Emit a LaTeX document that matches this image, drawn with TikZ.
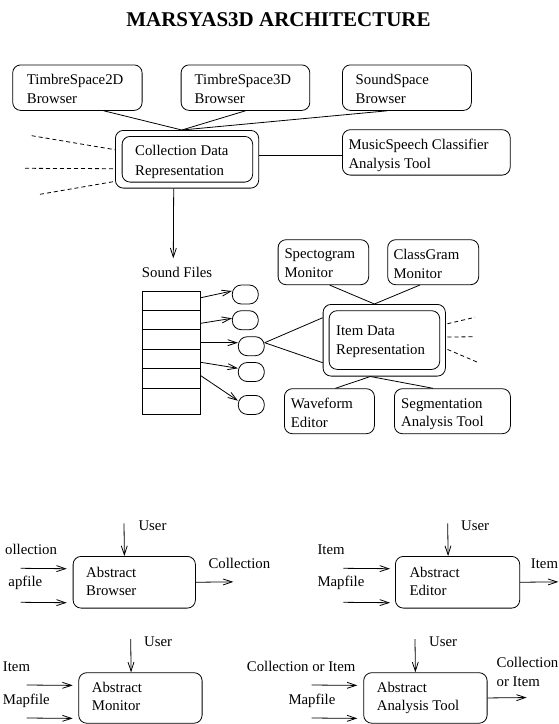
\documentclass[tikz,border=0pt]{standalone}
\usepackage{fontspec}
\setmainfont{Liberation Serif}
\usetikzlibrary{arrows.meta,calc}
\begin{document}
\begin{tikzpicture}[x=1pt,y=-1pt,
  box/.style={draw, rounded corners=8pt, line width=0.8pt, inner sep=0pt, anchor=north west},
  oval/.style={draw, rounded corners=9pt, line width=0.8pt, inner sep=0pt, minimum width=26pt, minimum height=19pt},
  txt/.style={font=\fontsize{14.8}{19}\selectfont, align=left, inner sep=0pt, anchor=north west},
  txtb/.style={font=\fontsize{14.8}{18.3}\selectfont, align=left, inner sep=0pt, anchor=north west},
  lbl/.style={font=\fontsize{14.8}{19}\selectfont, inner sep=0pt, anchor=base west},
  ln/.style={line width=0.8pt},
  dsh/.style={line width=0.8pt, dash pattern=on 4pt off 3pt},
  arr/.style={line width=0.8pt, -{Straight Barb[length=9pt,width=6pt]}}]
\useasboundingbox (0,0) rectangle (559,724);

% title
\node[font=\fontsize{21}{24}\selectfont\bfseries, anchor=base, inner sep=0pt] (title) at (278.5,26.7) {MARSYAS3D ARCHITECTURE};

% top boxes
\node[box, minimum width=129.4pt, minimum height=45.5pt] (t2d) at (12.3,64.5) {};
\node[txt] (t2dt) at (26.7,74.2) {TimbreSpace2D\\Browser};
\node[box, minimum width=128.7pt, minimum height=45.5pt] (t3d) at (180.7,64.5) {};
\node[txt] (t3dt) at (194.5,74.2) {TimbreSpace3D\\Browser};
\node[box, minimum width=129pt, minimum height=45.5pt] (ss) at (342,64.5) {};
\node[txt] (sst) at (355.5,74.2) {SoundSpace\\Browser};

% collection data representation
\node[box, minimum width=143.3pt, minimum height=57.7pt] (cout) at (115,130) {};
\node[box, minimum width=130.6pt, minimum height=45.7pt] (cin) at (121.7,136) {};
\node[txt, font=\fontsize{14.8}{20}\selectfont] (ct) at (135,144.9) {Collection Data\\Representation};

\node[box, minimum width=167.8pt, minimum height=45.4pt] (ms) at (342,129.3) {};
\node[txt] (mst) at (348.3,139.2) {MusicSpeech Classifier\\Analysis Tool};

\coordinate (cmeet) at ([xshift=-5.2pt]cout.north);
\draw[ln] ([xshift=26.4pt]t2d.south) -- (cmeet);
\draw[ln] (t3d.south) -- (cmeet);
\draw[ln] ([xshift=-19.7pt]ss.south) -- (cmeet);
\draw[ln] ([yshift=3.85pt]cout.east) -- ([yshift=-3pt]ms.west);

\coordinate (dl1) at (31.7,135.7);
\coordinate (dl2) at (25,168.3);
\coordinate (dl3) at (40,194.3);
\draw[dsh] (dl1) -- ([yshift=9.55pt]cout.west);
\draw[dsh] (dl2) -- ([yshift=-9.45pt]cout.west);
\draw[dsh] (dl3) -- ([yshift=-22.15pt]cout.west);

\coordinate (sftop) at (173.3,258.3);
\draw[arr] ([xshift=-13.35pt]cout.south) -- (sftop);

% sound files
\node[lbl] (sf) at (141.7,277.7) {Sound Files};
\node[draw, line width=0.8pt, inner sep=0pt, minimum width=58.3pt, minimum height=123.3pt, anchor=north west] (stack) at (141.7,291) {};
\foreach \d in {19.3,38.7,58,77.7,97.3}
  \draw[ln] ($(stack.north west)+(0,\d)$) -- ($(stack.north east)+(0,\d)$);

\node[oval] (e1) at (245.3,294.5) {};
\node[oval] (e2) at (245.3,320.2) {};
\node[oval] (e3) at (251.3,346.2) {};
\node[oval] (e4) at (251.3,372) {};
\node[oval] (e5) at (251.3,404.9) {};

\draw[arr] ($(stack.north east)+(0,6.7)$) -- ([yshift=3.5pt]e1.west);
\draw[arr] ($(stack.north east)+(0,32.3)$) -- ([yshift=1.9pt]e2.west);
\draw[arr] ($(stack.north east)+(0,51.7)$) -- ([yshift=3.5pt]e3.west);
\draw[arr] ($(stack.north east)+(0,71.3)$) -- ([yshift=3.7pt]e4.west);
\draw[arr] ($(stack.north east)+(0,84.7)$) -- ([yshift=4.2pt]e5.west);

% item data representation
\node[box, minimum width=122.3pt, minimum height=71.7pt] (iout) at (322.7,304) {};
\node[box, minimum width=110.6pt, minimum height=58.7pt] (iin) at (328.7,310.3) {};
\node[txt] (it) at (336,325.9) {Item Data\\Representation};

\draw[ln] ([yshift=3.5pt]e3.east) -- ([yshift=22.55pt]iout.west);
\draw[ln] ([yshift=3.5pt]e3.east) -- ([yshift=-22.45pt]iout.west);

\node[box, minimum width=90.6pt, minimum height=45pt] (spec) at (277.7,239.3) {};
\node[txt, font=\fontsize{14.8}{18.7}\selectfont] (spect) at (284.3,248.9) {Spectogram\\Monitor};
\node[box, minimum width=91pt, minimum height=45pt] (cg) at (387.3,239.3) {};
\node[txt, font=\fontsize{14.8}{18.7}\selectfont] (cgt) at (393.3,248.9) {ClassGram\\Monitor};

\coordinate (imeet) at ([xshift=-9.85pt]iout.north);
\draw[ln] ([xshift=6.3pt]spec.south) -- (imeet);
\draw[ln] ([xshift=-13.5pt]cg.south) -- (imeet);

\node[box, minimum width=90pt, minimum height=45pt] (wf) at (284,388.3) {};
\node[txtb] (wft) at (290.7,398.2) {Waveform\\Editor};
\node[box, minimum width=116pt, minimum height=45pt] (seg) at (394,388.3) {};
\node[txtb] (segt) at (401,398.2) {Segmentation\\Analysis Tool};

\coordinate (ibot) at ([xshift=-13.85pt]iout.south);
\draw[ln] (ibot) -- ([xshift=6pt]wf.north);
\draw[ln] (ibot) -- ([xshift=-19.3pt]seg.north);

\coordinate (dr1) at (475,317.3);
\coordinate (dr2) at (475,336.7);
\coordinate (dr3) at (477.7,362.3);
\draw[dsh] ([xshift=1.7pt,yshift=16.55pt]iout.east) -- (dr1);
\draw[dsh] ([xshift=1.7pt,yshift=3.15pt]iout.east) -- (dr2);
\draw[dsh] ([xshift=1.7pt,yshift=-9.15pt]iout.east) -- (dr3);

% abstract browser
\node[box, minimum width=122.3pt, minimum height=51.7pt] (br) at (72.7,556) {};
\node[txtb] (brt) at (86,566.6) {Abstract\\Browser};
\coordinate (bru) at (124,523.3);
\coordinate (bri1) at (20.7,568.3);
\coordinate (bri2) at (20.7,602.3);
\coordinate (bro) at (233.3,581.85);
\draw[arr] (bru) -- ([xshift=-9.85pt]br.north);
\draw[arr] (bri1) -- ([xshift=-6pt,yshift=13.55pt]br.west);
\draw[arr] (bri2) -- ([xshift=-6pt,yshift=-20.45pt]br.west);
\draw[arr] (br.east) -- (bro);
\node[lbl] (bru-l) at (138.3,530) {User};
\node[lbl] (bri1-l) at (5,554.3) {ollection};
\node[lbl] (bri2-l) at (8.3,586.7) {apfile};
\node[lbl] (bro-l) at (208.3,568.3) {Collection};

% abstract editor
\node[box, minimum width=124.3pt, minimum height=51.7pt] (ed) at (395,556) {};
\node[txtb] (edt) at (409.3,566.6) {Abstract\\Editor};
\coordinate (edu) at (447.7,523.3);
\coordinate (edi1) at (343.3,568.3);
\coordinate (edi2) at (343.3,602.3);
\coordinate (edo) at (558.3,581.85);
\draw[arr] (edu) -- ([xshift=-9.45pt]ed.north);
\draw[arr] (edi1) -- ([xshift=-5pt,yshift=13.55pt]ed.west);
\draw[arr] (edi2) -- ([xshift=-5pt,yshift=-20.45pt]ed.west);
\draw[arr] (ed.east) -- (edo);
\node[lbl] (edu-l) at (461,530) {User};
\node[lbl] (edi1-l) at (317.3,554.3) {Item};
\node[lbl] (edi2-l) at (317.3,586.7) {Mapfile};
\node[lbl] (edo-l) at (530.7,568.3) {Item};

% abstract monitor
\node[box, minimum width=123.4pt, minimum height=50.5pt] (mo) at (78.3,672.3) {};
\node[txtb] (mot) at (91.7,682.2) {Abstract\\Monitor};
\coordinate (mou) at (130.7,639);
\coordinate (moi1) at (26.7,685);
\coordinate (moi2) at (26.7,718);
\draw[arr] (mou) -- ([xshift=-9.3pt]mo.north);
\draw[arr] (moi1) -- ([xshift=-5.6pt,yshift=12.55pt]mo.west);
\draw[arr] (moi2) -- ([xshift=-5.6pt,yshift=-20.45pt]mo.west);
\node[lbl] (mou-l) at (144,646.7) {User};
\node[lbl] (moi1-l) at (2.7,671.7) {Item};
\node[lbl] (moi2-l) at (2.7,704) {Mapfile};

% abstract analysis tool
\node[box, minimum width=123.4pt, minimum height=50.5pt] (an) at (363.3,672.3) {};
\node[txtb] (ant) at (376.7,682.2) {Abstract\\Analysis Tool};
\coordinate (anu) at (415,639);
\coordinate (ani1) at (311.7,685);
\coordinate (ani2) at (311.7,718);
\coordinate (ano) at (526.7,697.55);
\draw[arr] (anu) -- ([xshift=-10pt]an.north);
\draw[arr] (ani1) -- ([xshift=-6pt,yshift=12.55pt]an.west);
\draw[arr] (ani2) -- ([xshift=-6pt,yshift=-20.45pt]an.west);
\draw[arr] (an.east) -- (ano);
\node[lbl] (anu-l) at (429,646.7) {User};
\node[lbl] (ani1-l) at (246.7,671.7) {Collection or Item};
\node[lbl] (ani2-l) at (288.3,704) {Mapfile};
\node[txt] (ano-l) at (496.5,656.6) {Collection\\or Item};
\end{tikzpicture}
\end{document}
